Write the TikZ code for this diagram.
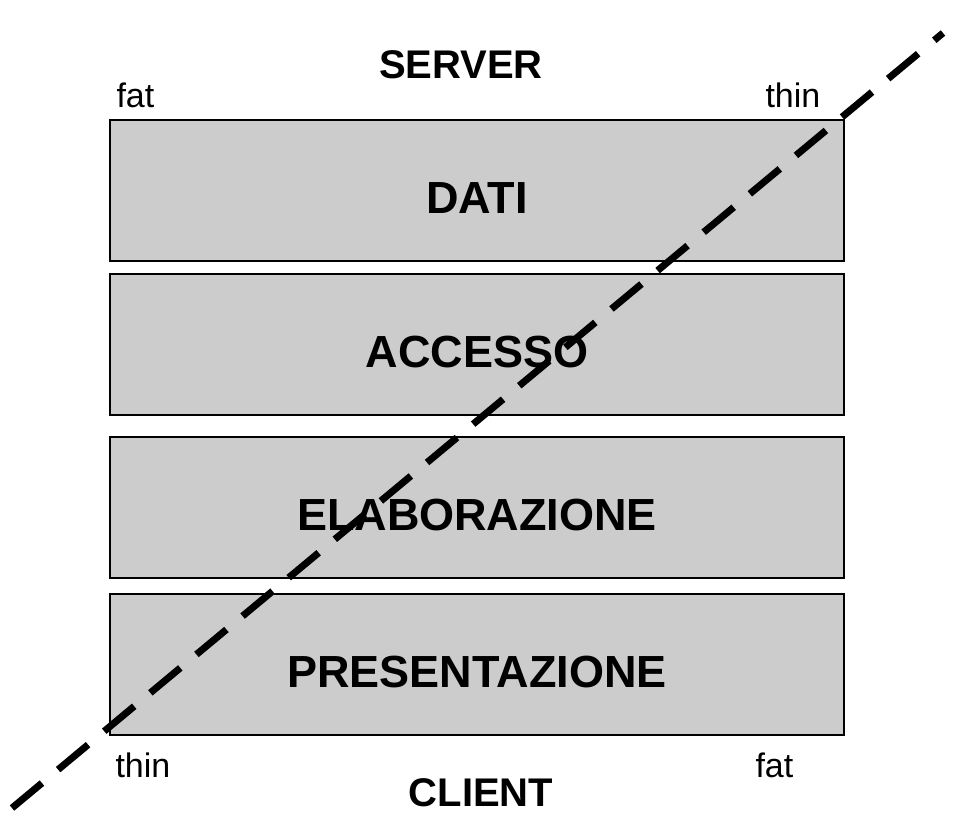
\documentclass[tikz,border=0pt]{standalone}
\usepackage{fontspec}
\setmainfont{Liberation Sans}
\usetikzlibrary{positioning, calc}

\tikzset{
  layer/.style={draw, line width=1.8pt, fill=black!20, minimum width=734pt, minimum height=141pt,
    inner sep=0pt, outer sep=0pt, font=\fontsize{45}{45}\selectfont\bfseries, text height=46pt, text depth=0pt},
  side/.style={font=\fontsize{40}{40}\selectfont\bfseries, anchor=base},
  tag/.style={font=\fontsize{34}{34}\selectfont, anchor=base west},
}

\begin{document}
\begin{tikzpicture}[x=1pt, y=-1pt]
    \useasboundingbox (0,0) rectangle (956,815);

    \node[layer] (dati) at (477,190.5) {DATI};
    \node[layer, below=13pt of dati] (accesso) {ACCESSO};
    \node[layer, below=22pt of accesso] (elab) {ELABORAZIONE};
    \node[layer, below=16pt of elab] (pres) {PRESENTAZIONE};

    \node[side] (server) at (461,78) {SERVER};
    \node[side] (client) at (481,806) {CLIENT};
    \node[tag] (fatsrv) at (113,107) {fat};
    \node[tag] (thinsrv) at (762,107) {thin};
    \node[tag] (thincli) at (112,777) {thin};
    \node[tag] (fatcli) at (752,777) {fat};

    % split between client and server
    \coordinate (cutlo) at (12,808);
    \coordinate (cuthi) at (943,33);
    \draw[line width=7pt, dash pattern=on 39pt off 21pt] (cutlo) -- (cuthi);
\end{tikzpicture}
\end{document}
